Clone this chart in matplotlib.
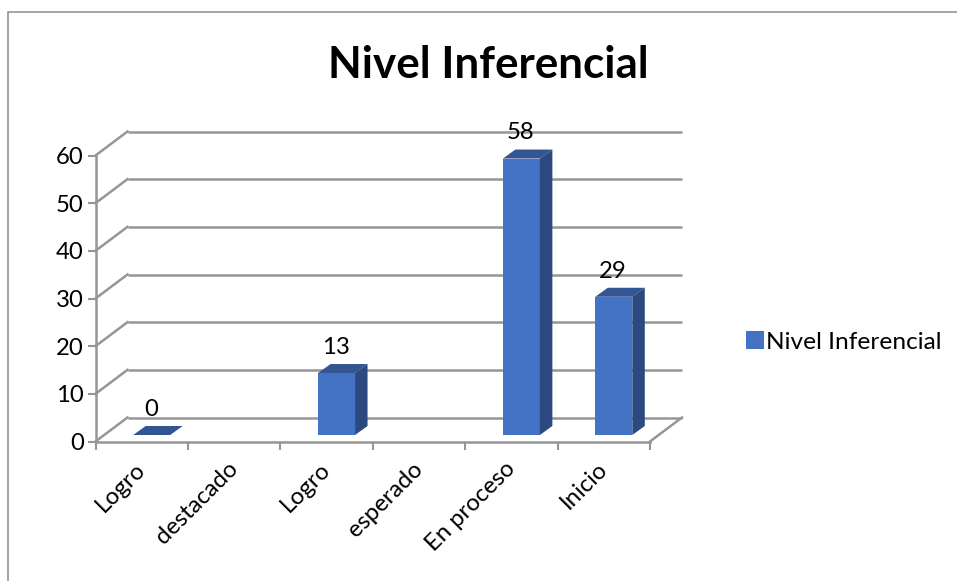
import numpy as np
import matplotlib
matplotlib.use('Agg')
import matplotlib.pyplot as plt
from matplotlib.patches import Patch, Polygon, Rectangle

categories = ['Logro', 'destacado', 'Logro', 'esperado', 'En proceso', 'Inicio']
values = [0, np.nan, 13, np.nan, 58, 29]
y_ticks = [0, 10, 20, 30, 40, 50, 60]
series_name = 'Nivel Inferencial'

W, H = 957, 581
GRID = '#969696'
FRONT = '#4472C4'
SIDE = '#2C4A7F'
TOP = '#335593'
LABEL_SIZE = 17.2

plt.rcParams['font.family'] = ['Lato', 'DejaVu Sans']

fig = plt.figure(figsize=(W / 100, H / 100), dpi=100, facecolor='white')

# front plane of the fake 3d box, in pixels from the reference
left, right, top, bottom = 95.5, 650, 155.5, 441.5
ax = fig.add_axes([left / W, 1 - bottom / H, (right - left) / W, (bottom - top) / H])
ax.set_xlim(0, 6)
ax.set_ylim(0, 60)
ax.patch.set_alpha(0)

px_x = (right - left) / 6
px_y = (bottom - top) / 60

# depth offsets of the box and of the bars
depth_x = 32 / px_x
depth_y = 24 / px_y
bar_dx = 10 / px_x
bar_dy = 6.5 / px_y
side_x = 12.5 / px_x
side_y = 9 / px_y
bar_w = 37 / px_x

# back wall lines and the diagonals joining them to the front
for t in y_ticks:
    ax.plot([depth_x, 6 + depth_x], [t + depth_y, t + depth_y], color=GRID, lw=1.8,
            clip_on=False, zorder=1, solid_capstyle='butt')
    ax.plot([0, depth_x], [t, t + depth_y], color=GRID, lw=1.8, clip_on=False, zorder=1)
ax.plot([6, 6 + depth_x], [0, depth_y], color=GRID, lw=1.8, clip_on=False, zorder=1)

centers = np.arange(len(categories)) + 0.5
ax.bar(centers + bar_dx, values, width=bar_w, bottom=bar_dy, color=FRONT, zorder=3, clip_on=False)

for c, v in zip(centers, values):
    if np.isnan(v):
        continue
    x0 = c + bar_dx - bar_w / 2
    x1 = c + bar_dx + bar_w / 2
    y0 = bar_dy
    y1 = bar_dy + v
    ax.add_patch(Polygon([(x0, y1), (x1, y1), (x1 + side_x, y1 + side_y), (x0 + side_x, y1 + side_y)],
                         closed=True, facecolor=TOP, edgecolor='none', zorder=3, clip_on=False))
    ax.add_patch(Polygon([(x1, y0), (x1 + side_x, y0 + side_y), (x1 + side_x, y1 + side_y), (x1, y1)],
                         closed=True, facecolor=SIDE, edgecolor='none', zorder=3, clip_on=False))
    ax.annotate(f'{v:.0f}', (c + bar_dx - 1 / px_x, y1), xytext=(0, 18.5),
                textcoords='offset points', ha='center', va='center', fontsize=LABEL_SIZE, color='black', zorder=4)

for name in ['top', 'right']:
    ax.spines[name].set_visible(False)
for name in ['left', 'bottom']:
    ax.spines[name].set_color(GRID)
    ax.spines[name].set_linewidth(1.8)

ax.set_yticks(y_ticks)
ax.set_xticks(range(7))
ax.set_xticklabels([])
# labels sit a little left of the category centres in the reference
ax.set_xticks(centers - 7 / px_x, minor=True)
ax.set_xticklabels(categories, minor=True, rotation=45, ha='right', rotation_mode='anchor', fontsize=LABEL_SIZE)
ax.tick_params(axis='x', which='major', length=5.5, width=1.5, color=GRID)
ax.tick_params(axis='x', which='minor', length=0, pad=12)
ax.tick_params(axis='y', length=5.5, width=1.5, color=GRID, labelsize=LABEL_SIZE, pad=3)

fig.text(488.5 / W, 1 - 65 / H, 'Nivel Inferencial', ha='center', va='center', fontsize=31.7, fontweight='bold')

fig.legend(handles=[Patch(facecolor=FRONT, label=series_name)], loc='center left',
           bbox_to_anchor=(746 / W, 1 - 342 / H), frameon=False, fontsize=17.6,
           handlelength=0.75, handleheight=0.75, handletextpad=0.05, borderpad=0, borderaxespad=0)

# chart area frame, only the top and left show in the crop
fig.add_artist(Rectangle((8 / W, -0.1), 1.1, 1.1 - 12.5 / H, transform=fig.transFigure,
                         facecolor='none', edgecolor='#8C8C8C', lw=1.1, zorder=0))

fig.savefig('out.png', dpi=100)
